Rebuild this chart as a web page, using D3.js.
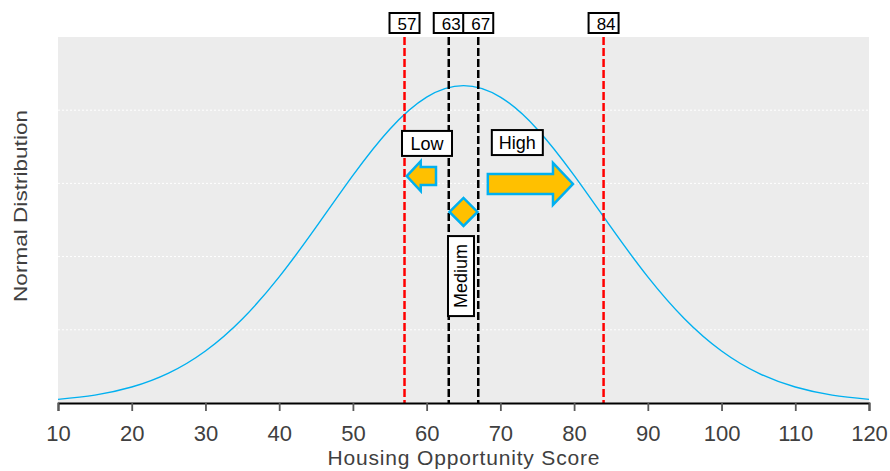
<!DOCTYPE html>
<html>
<head>
<meta charset="utf-8">
<script src="https://cdn.jsdelivr.net/npm/d3@7"></script>
<style>
  html, body { margin: 0; padding: 0; background: #ffffff; }
  svg { display: block; font-family: "Liberation Sans", Arial, sans-serif; }
</style>
</head>
<body>
<svg id="chart" width="890" height="471"></svg>
<script>
// Housing opportunity score distribution (mean about 65, sd about 18.4)
const scores = [10, 15, 20, 25, 30, 35, 40, 45, 50, 55, 60, 65,
                70, 75, 80, 85, 90, 95, 100, 105, 110, 115, 120];
const densities = [0.000249, 0.000540, 0.001090, 0.002041, 0.003552, 0.005739,
                   0.008615, 0.012010, 0.015551, 0.018705, 0.020896, 0.021682,
                   0.020896, 0.018705, 0.015551, 0.012010, 0.008615, 0.005739,
                   0.003552, 0.002041, 0.001090, 0.000540, 0.000249];

const xTickValues = [10, 20, 30, 40, 50, 60, 70, 80, 90, 100, 110, 120];
const yGridValues = [0.005, 0.01, 0.015, 0.02];

// Cut-off scores: outer band (red) and inner band (black)
const cutoffValues = [57, 63, 67, 84];
const cutoffBands = ["outer", "inner", "inner", "outer"];

// Category annotations placed in data space (score, density)
const categoryNames = ["Low", "High", "Medium"];
const categoryScores = [60.05, 72.3, 64.66];
const categoryDensities = [0.01773, 0.01779, 0.00867];

const svg = d3.select("#chart");
const plot = { left: 58, right: 869, top: 37, bottom: 403 };

const x = d3.scaleLinear().domain([10, 120]).range([plot.left, plot.right]);
const y = d3.scaleLinear().domain([0, 0.025]).range([plot.bottom, plot.top]);

// Plot background
svg.append("rect")
  .attr("x", plot.left).attr("y", plot.top)
  .attr("width", plot.right - plot.left).attr("height", plot.bottom - plot.top)
  .attr("fill", "#ececec");

// Horizontal gridlines
svg.append("g").selectAll("line").data(yGridValues).join("line")
  .attr("x1", plot.left).attr("x2", plot.right)
  .attr("y1", d => y(d)).attr("y2", d => y(d))
  .attr("stroke", "#ffffff").attr("stroke-width", 1)
  .attr("stroke-dasharray", "2,2");

// Normal curve
const line = d3.line()
  .x((d, i) => x(scores[i]))
  .y(d => y(d))
  .curve(d3.curveNatural);
svg.append("path")
  .datum(densities)
  .attr("d", line)
  .attr("fill", "none")
  .attr("stroke", "#00b0f0")
  .attr("stroke-width", 1.4);

// Cut-off lines
const bandColor = { outer: "#ff0000", inner: "#000000" };
svg.append("g").selectAll("line").data(cutoffValues).join("line")
  .attr("x1", d => x(d)).attr("x2", d => x(d))
  .attr("y1", plot.top).attr("y2", plot.bottom)
  .attr("stroke", (d, i) => bandColor[cutoffBands[i]])
  .attr("stroke-width", 2.5)
  .attr("stroke-dasharray", "8,3");

// Cut-off value labels above the plot
const cutLabel = svg.append("g").selectAll("g").data(cutoffValues).join("g")
  .attr("transform", d => `translate(${x(d)},23)`);
cutLabel.append("rect")
  .attr("x", -15).attr("y", -10).attr("width", 30).attr("height", 20)
  .attr("fill", "#ffffff").attr("stroke", "#000000").attr("stroke-width", 2);
cutLabel.append("text")
  .attr("x", 12).attr("y", 6.5)
  .attr("text-anchor", "end")
  .attr("font-size", 17)
  .attr("fill", "#000000")
  .text(d => d);

// Arrow glyphs
const arrowFill = "#ffc000";
const arrowStroke = "#00b0f0";

// Low: left-pointing arrow
{
  const tip = x(57.3), tail = x(61.27), cy = y(0.0155);
  const head = tip + 14;
  const p = d3.path();
  p.moveTo(tip, cy);
  p.lineTo(head, cy - 15);
  p.lineTo(head, cy - 9);
  p.lineTo(tail, cy - 9);
  p.lineTo(tail, cy + 9);
  p.lineTo(head, cy + 9);
  p.lineTo(head, cy + 15);
  p.closePath();
  svg.append("path").attr("d", p.toString())
    .attr("fill", arrowFill).attr("stroke", arrowStroke).attr("stroke-width", 2.5)
    .attr("stroke-linejoin", "miter");
}

// High: right-pointing arrow
{
  const tail = x(68.3), tip = x(79.85), cy = y(0.01496);
  const head = tip - 20;
  const p = d3.path();
  p.moveTo(tail, cy - 10);
  p.lineTo(head, cy - 10);
  p.lineTo(head, cy - 21);
  p.lineTo(tip, cy);
  p.lineTo(head, cy + 21);
  p.lineTo(head, cy + 10);
  p.lineTo(tail, cy + 10);
  p.closePath();
  svg.append("path").attr("d", p.toString())
    .attr("fill", arrowFill).attr("stroke", arrowStroke).attr("stroke-width", 2.5)
    .attr("stroke-linejoin", "miter");
}

// Medium: diamond marker
{
  const cx = x(65), cy = y(0.01305);
  const p = d3.path();
  p.moveTo(cx - 14, cy);
  p.lineTo(cx, cy - 14);
  p.lineTo(cx + 14, cy);
  p.lineTo(cx, cy + 14);
  p.closePath();
  svg.append("path").attr("d", p.toString())
    .attr("fill", arrowFill).attr("stroke", arrowStroke).attr("stroke-width", 2.5);
}

// Category label boxes
const boxSizes = { Low: [50, 25], High: [51, 25], Medium: [26, 80] };
categoryNames.forEach((name, i) => {
  const cx = x(categoryScores[i]), cy = y(categoryDensities[i]);
  const [w, h] = boxSizes[name];
  const g = svg.append("g").attr("transform", `translate(${cx},${cy})`);
  g.append("rect")
    .attr("x", -w / 2).attr("y", -h / 2).attr("width", w).attr("height", h)
    .attr("fill", "#ffffff").attr("stroke", "#000000").attr("stroke-width", 2);
  const t = g.append("text")
    .attr("text-anchor", "middle")
    .attr("font-size", 18)
    .attr("fill", "#000000")
    .text(name);
  if (name === "Medium") {
    t.attr("transform", "rotate(-90)").attr("dy", 6.5);
  } else {
    t.attr("dy", 6.5);
  }
});

// X axis
const xAxis = d3.axisBottom(x).tickValues(xTickValues).tickSize(8).tickPadding(14);
const gx = svg.append("g")
  .attr("transform", `translate(0,${plot.bottom})`)
  .call(xAxis);
gx.select(".domain").attr("stroke", "#000000").attr("stroke-width", 1.8);
gx.selectAll(".tick line").attr("stroke", "#595959").attr("stroke-width", 1.8);
gx.selectAll(".tick text")
  .attr("font-family", "'Liberation Sans', Arial, sans-serif")
  .attr("font-size", 22)
  .attr("fill", "#404040");

// Axis titles
svg.append("text")
  .attr("x", (plot.left + plot.right) / 2)
  .attr("y", 465)
  .attr("text-anchor", "middle")
  .attr("font-size", 21)
  .attr("textLength", 272)
  .attr("lengthAdjust", "spacing")
  .attr("fill", "#404040")
  .text("Housing Opportunity Score");

svg.append("text")
  .attr("transform", "translate(27,206) rotate(-90)")
  .attr("text-anchor", "middle")
  .attr("font-size", 18)
  .attr("textLength", 192)
  .attr("lengthAdjust", "spacingAndGlyphs")
  .attr("fill", "#404040")
  .text("Normal  Distribution");
</script>
</body>
</html>
